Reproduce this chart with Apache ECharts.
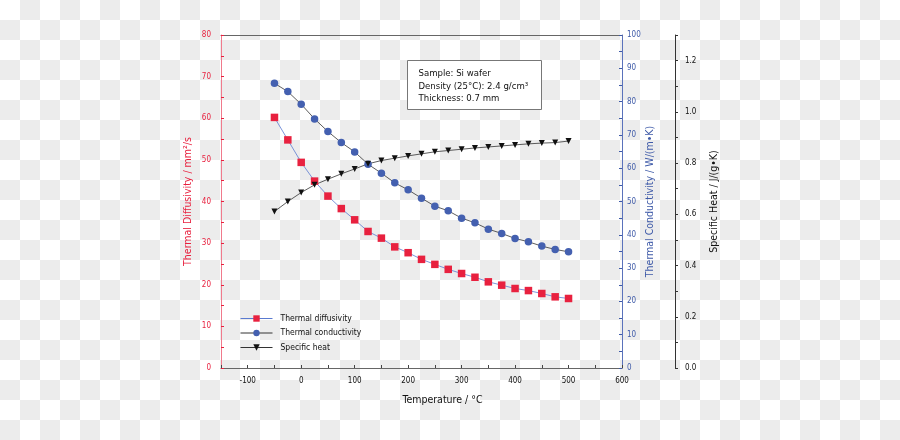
<!DOCTYPE html>
<html>
<head>
<meta charset="utf-8">
<script src="https://cdn.jsdelivr.net/npm/echarts@6/dist/echarts.min.js"></script>
<style>
html,body{margin:0;padding:0;}
body{width:900px;height:440px;background:repeating-conic-gradient(#ececec 0 25%, #ffffff 0 50%) 0 0/40px 40px;}
#c{width:900px;height:440px;}
</style>
</head>
<body>
<div id="c"></div>
<script>
// Data
var temperatures = [-50,-25,0,25,50,75,100,125,150,175,200,225,250,275,300,325,350,375,400,425,450,475,500];
var diffusivity = [60.2,54.8,49.4,44.9,41.3,38.3,35.6,32.8,31.2,29.1,27.7,26.1,24.9,23.7,22.7,21.8,20.7,19.9,19.1,18.6,17.9,17.1,16.7];
var conductivity = [85.5,83.0,79.2,74.8,71.0,67.7,64.9,61.2,58.5,55.6,53.5,51.0,48.6,47.2,45.0,43.6,41.7,40.4,38.9,37.9,36.6,35.6,34.9];
var specificHeat = [0.611,0.650,0.685,0.715,0.737,0.758,0.777,0.797,0.810,0.819,0.828,0.836,0.844,0.849,0.854,0.859,0.863,0.867,0.871,0.875,0.878,0.880,0.886];
var seriesNames = ['Thermal diffusivity','Thermal conductivity','Specific heat'];
var infoLines = ['Sample: Si wafer','Density (25°C): 2.4 g/cm³','Thickness: 0.7 mm'];

var FONT = '"DejaVu Sans Condensed","Liberation Sans Narrow",sans-serif';
var RED = '#e8213f', BLUE = '#3e5aa8';

function pairs(vals){ return temperatures.map(function(t,i){ return [t, vals[i]]; }); }

var chart = echarts.init(document.getElementById('c'), null, {renderer:'canvas'});
chart.setOption({
  backgroundColor: 'transparent',
  animation: false,
  textStyle: {fontFamily: FONT},
  grid: {left: 221, right: 278, top: 35, bottom: 72, containLabel: false},
  xAxis: [{
    type: 'value', min: -150, max: 600, interval: 50,
    name: 'Temperature / °C', nameLocation: 'middle', nameGap: 27,
    nameTextStyle: {fontFamily: FONT, fontSize: 10.5, color: '#111', padding: [0,0,0,42]},
    axisLine: {onZero: false, lineStyle: {color: '#666', width: 1}},
    axisTick: {inside: true, length: 3, lineStyle: {color: '#444'}},
    axisLabel: {fontFamily: FONT, fontSize: 8, color: '#111', margin: 9,
      formatter: function(v){ return (v % 100 === 0) ? String(v) : ''; }},
    splitLine: {show: false}
  },{
    type: 'value', min: -150, max: 600, position: 'top',
    axisLine: {onZero: false, lineStyle: {color: '#666', width: 1}},
    axisTick: {show: false}, axisLabel: {show: false}, splitLine: {show: false}
  }],
  yAxis: [{
    type: 'value', min: 0, max: 80, interval: 5, position: 'left',
    name: 'Thermal Diffusivity / mm²/s', nameLocation: 'middle', nameGap: 27, nameRotate: 90,
    nameTextStyle: {fontFamily: FONT, fontSize: 10.5, color: RED},
    axisLine: {show: true, onZero: false, lineStyle: {color: '#f07a8c', width: 1}},
    axisTick: {inside: true, length: 3, lineStyle: {color: RED}},
    axisLabel: {fontFamily: FONT, fontSize: 8, color: RED, margin: 10,
      formatter: function(v){ return (v % 10 === 0) ? String(v) : ''; }},
    splitLine: {show: false}
  },{
    type: 'value', min: 0, max: 100, interval: 5, position: 'right',
    name: 'Thermal Conductivity / W/(m•K)', nameLocation: 'middle', nameGap: 23, nameRotate: 90,
    nameTextStyle: {fontFamily: FONT, fontSize: 10.5, color: BLUE},
    axisLine: {show: true, onZero: false, lineStyle: {color: '#5a72bb', width: 1}},
    axisTick: {inside: true, length: 3, lineStyle: {color: BLUE}},
    axisLabel: {fontFamily: FONT, fontSize: 8, color: BLUE, margin: 5,
      formatter: function(v){ return (v % 10 === 0) ? String(v) : ''; }},
    splitLine: {show: false}
  },{
    type: 'value', min: 0, max: 1.3, interval: 0.1, position: 'right', offset: 53,
    name: 'Specific Heat / J/(g•K)', nameLocation: 'middle', nameGap: 34, nameRotate: 90,
    nameTextStyle: {fontFamily: FONT, fontSize: 10.5, color: '#111'},
    axisLine: {show: true, onZero: false, lineStyle: {color: '#333', width: 1}},
    axisTick: {inside: false, length: 3, lineStyle: {color: '#333'}},
    axisLabel: {fontFamily: FONT, fontSize: 8, color: '#111', margin: 10,
      formatter: function(v){ var k = Math.round(v*10); return (k % 2 === 0) ? (k/10).toFixed(1) : ''; }},
    splitLine: {show: false}
  }],
  legend: {
    orient: 'vertical', left: 240, top: 314, padding: 0, itemWidth: 32, itemHeight: 8, itemGap: 5.5,
    data: seriesNames,
    lineStyle: {width: 1},
    textStyle: {fontFamily: FONT, fontSize: 8.5, color: '#111', padding: [0,0,0,3]}
  },
  series: [{
    name: seriesNames[0], type: 'line', xAxisIndex: 0, yAxisIndex: 0,
    data: pairs(diffusivity), symbol: 'rect', symbolSize: 7.5,
    itemStyle: {color: RED}, lineStyle: {color: '#5a7ad0', width: 0.8}
  },{
    name: seriesNames[1], type: 'line', xAxisIndex: 0, yAxisIndex: 1,
    data: pairs(conductivity), symbol: 'circle', symbolSize: 7.5,
    itemStyle: {color: '#4460b0'}, lineStyle: {color: '#333', width: 0.8}
  },{
    name: seriesNames[2], type: 'line', xAxisIndex: 0, yAxisIndex: 2,
    data: pairs(specificHeat), symbol: 'triangle', symbolSize: 6, symbolRotate: 180,
    itemStyle: {color: '#111'}, lineStyle: {color: '#333', width: 0.8}
  }],
  graphic: [{
    type: 'group', left: 407, top: 60,
    children: [{
      type: 'rect', shape: {x: 0, y: 0, width: 134, height: 49},
      style: {fill: '#ffffff', stroke: '#777', lineWidth: 1}
    },{
      type: 'text', left: 11, top: 7,
      style: {text: infoLines.join('\n'), font: '9.5px ' + FONT, fill: '#111', lineHeight: 12.5}
    }]
  }]
});
</script>
</body>
</html>
